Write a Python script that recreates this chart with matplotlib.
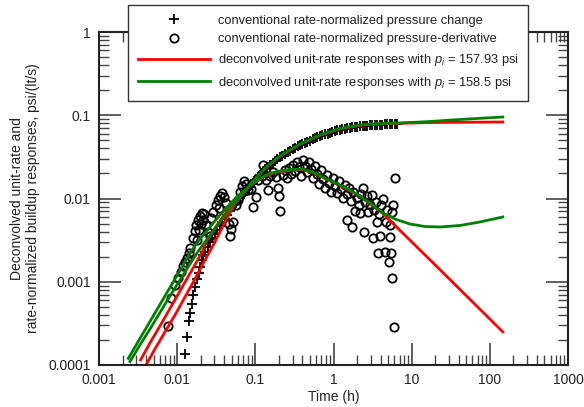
#! /usr/bin/env python3
""" Deconvolved unit-rate responses vs conventional rate-normalized buildup data. """

import matplotlib
matplotlib.use('Agg')
import matplotlib.pyplot as plt

plt.rcParams['font.family'] = ['Liberation Sans', 'DejaVu Sans']
plt.rcParams['mathtext.fontset'] = 'custom'
plt.rcParams['mathtext.rm'] = 'Liberation Sans'
plt.rcParams['mathtext.it'] = 'Liberation Sans:italic'

# conventional rate-normalized pressure change (+)
dp_t = [0.0126, 0.0135, 0.0143, 0.0146, 0.0153, 0.0161, 0.0170, 0.0181, 0.0188, 0.0196, 0.0206, 0.0216,
        0.0227, 0.0245, 0.0263, 0.0283, 0.0304, 0.0327, 0.0352, 0.038, 0.041, 0.044, 0.047, 0.051,
        0.055, 0.059, 0.064, 0.069, 0.074, 0.080, 0.086, 0.092, 0.099, 0.107, 0.115, 0.124,
        0.133, 0.143, 0.154, 0.166, 0.178, 0.192, 0.206, 0.222, 0.24, 0.26, 0.28, 0.30,
        0.32, 0.35, 0.37, 0.40, 0.43, 0.46, 0.50, 0.54, 0.58, 0.62, 0.67, 0.72,
        0.78, 0.84, 0.90, 0.97, 1.04, 1.12, 1.21, 1.30, 1.40, 1.51, 1.62, 1.75,
        1.88, 2.02, 2.18, 2.35, 2.52, 2.72, 2.92, 3.15, 3.38, 3.64, 3.92, 4.22,
        4.54, 4.89, 5.26, 5.66, 6.10, 6.5]
dp_v = [0.000136, 0.000215, 0.000335, 0.000425, 0.000536, 0.000693, 0.000872, 0.00107, 0.00128, 0.00152, 0.00183, 0.0021,
        0.0023, 0.0026, 0.0030, 0.0034, 0.0037, 0.0042, 0.0047, 0.0052, 0.0057, 0.0063, 0.0070, 0.0078,
        0.0085, 0.0093, 0.0102, 0.0111, 0.0120, 0.0131, 0.0142, 0.0153, 0.0167, 0.0180, 0.0194, 0.0210,
        0.0226, 0.0238, 0.0252, 0.0267, 0.0281, 0.0297, 0.0313, 0.0327, 0.0342, 0.0358, 0.0373, 0.0388,
        0.0403, 0.0423, 0.0437, 0.0453, 0.0466, 0.0479, 0.0497, 0.0513, 0.0528, 0.0544, 0.0562, 0.0574,
        0.0588, 0.0602, 0.0615, 0.0629, 0.0642, 0.0657, 0.0673, 0.0680, 0.0688, 0.0698, 0.0706, 0.0714,
        0.0722, 0.0732, 0.0741, 0.0744, 0.0748, 0.0753, 0.0756, 0.0760, 0.0763, 0.0769, 0.0772, 0.0774,
        0.0776, 0.0778, 0.0780, 0.0782, 0.0784, 0.0785]

# conventional rate-normalized pressure-derivative (o)
der_t = [0.00757, 0.00834, 0.00938, 0.01024, 0.0112, 0.01187, 0.0126, 0.01334, 0.01416, 0.0148,
         0.0159, 0.0169, 0.01767, 0.01846, 0.0196, 0.02077, 0.02203, 0.0214, 0.02016, 0.019,
         0.0179, 0.02336, 0.02477, 0.0263, 0.0459, 0.0488, 0.0473, 0.0518, 0.0313, 0.0332,
         0.0352, 0.0374, 0.0397, 0.0421, 0.0343, 0.0287, 0.027, 0.0565, 0.060, 0.0635,
         0.0674, 0.0715, 0.0759, 0.0804, 0.0879, 0.0931, 0.102, 0.108, 0.121, 0.125,
         0.137, 0.145, 0.154, 0.168, 0.183, 0.195, 0.200, 0.206, 0.226, 0.239,
         0.254, 0.269, 0.285, 0.303, 0.321, 0.340, 0.361, 0.383, 0.406, 0.431,
         0.457, 0.485, 0.514, 0.545, 0.578, 0.614, 0.650, 0.690, 0.732, 0.776,
         0.824, 0.873, 0.927, 0.982, 1.04, 1.105, 1.17, 1.24, 1.32, 1.40,
         1.47, 1.48, 1.57, 1.67, 1.75, 1.77, 1.88, 1.99, 2.11, 2.18,
         2.24, 2.38, 2.45, 2.52, 2.67, 2.75, 2.92, 3.10, 3.19, 3.29,
         3.48, 3.59, 3.70, 3.81, 3.92, 4.04, 4.28, 4.54, 4.68, 4.82,
         5.11, 5.26, 5.26, 5.50, 5.58, 5.75, 5.58, 5.92, 6.10]
der_v = [0.000294, 0.00063, 0.000914, 0.00111, 0.00131, 0.00155, 0.00173, 0.00193, 0.00221, 0.00254,
         0.00336, 0.00407, 0.00481, 0.00552, 0.00616, 0.0067, 0.00651, 0.00552, 0.00494, 0.00418,
         0.00317, 0.00481, 0.00396, 0.00355, 0.00494, 0.0043, 0.00355, 0.00522, 0.00835, 0.00959,
         0.0107, 0.0116, 0.0104, 0.00883, 0.00769, 0.00689, 0.00583, 0.00835, 0.00959, 0.0120,
         0.0141, 0.0162, 0.0149, 0.0126, 0.0130, 0.0079, 0.0104, 0.0167, 0.0186, 0.0253,
         0.0167, 0.0126, 0.0186, 0.0208, 0.0181, 0.0134, 0.0107, 0.00708, 0.0191, 0.0220,
         0.0176, 0.0232, 0.0197, 0.0253, 0.0214, 0.0274, 0.0239, 0.0186, 0.0290, 0.0245,
         0.0208, 0.0274, 0.0226, 0.0176, 0.0245, 0.0197, 0.0149, 0.0220, 0.0172, 0.0134,
         0.0191, 0.0153, 0.0120, 0.0176, 0.0141, 0.0116, 0.0162, 0.0130, 0.0101, 0.0145,
         0.0055, 0.0113, 0.0134, 0.00933, 0.00458, 0.0120, 0.00708, 0.0101, 0.00835, 0.0067,
         0.0113, 0.0134, 0.00396, 0.00908, 0.0107, 0.00689, 0.00835, 0.0110, 0.00336, 0.00727,
         0.00908, 0.00522, 0.00221, 0.00651, 0.00355, 0.00835, 0.00986, 0.00228, 0.00522, 0.00727,
         0.00173, 0.00345, 0.0048, 0.00221, 0.00111, 0.00835, 0.00689, 0.000286, 0.0176]

# deconvolved responses, pi = 157.93 psi (red)
red_p_t = [0.00399, 0.0052, 0.00698, 0.00938, 0.0126, 0.0169, 0.0227, 0.0304, 0.0408, 0.0548,
           0.0736, 0.0988, 0.133, 0.206, 0.372, 0.670, 1.21, 2.18, 3.92, 7.06, 17.1, 41.3, 146.6]
red_p_v = [0.0001, 0.000156, 0.000249, 0.000398, 0.000656, 0.00108, 0.00182, 0.0030, 0.0052, 0.0086,
           0.0121, 0.0170, 0.0229, 0.0320, 0.0446, 0.0572, 0.0686, 0.0755, 0.0787, 0.0800, 0.0818, 0.0823, 0.083]
red_d_t = [0.00341, 0.00449, 0.00603, 0.00809, 0.01087, 0.0146, 0.0206, 0.0240, 0.0304, 0.0408,
           0.0548, 0.0736, 0.0988, 0.133, 0.178, 0.277, 0.406, 0.578, 0.776, 1.105,
           1.62, 2.18, 2.92, 4.28, 23.0, 146.6]
red_d_v = [0.000115, 0.000184, 0.000294, 0.000477, 0.000775, 0.00126, 0.00221, 0.00309, 0.00442, 0.00651,
           0.00933, 0.0123, 0.0158, 0.0186, 0.0205, 0.0218, 0.0223, 0.0200, 0.0174, 0.0149,
           0.0124, 0.0106, 0.0087, 0.0066, 0.0014, 0.00025]

# deconvolved responses, pi = 158.5 psi (green)
grn_p_t = [0.00249, 0.00334, 0.00449, 0.00603, 0.00809, 0.01087, 0.0146, 0.0179, 0.0227, 0.0304,
           0.0408, 0.0548, 0.0736, 0.0988, 0.133, 0.206, 0.372, 0.670, 1.21, 2.18,
           3.92, 7.06, 17.1, 41.3, 146.6]
grn_p_v = [0.00011, 0.000174, 0.00027, 0.000427, 0.000674, 0.00105, 0.00163, 0.00221, 0.0030, 0.0043,
           0.00616, 0.00883, 0.0123, 0.0172, 0.0232, 0.0324, 0.0451, 0.0579, 0.0694, 0.0764,
           0.0796, 0.0807, 0.0841, 0.0889, 0.0953]
grn_d_t = [0.00237, 0.00334, 0.00449, 0.00603, 0.00809, 0.01087, 0.0153, 0.0196, 0.0263, 0.0352,
           0.0473, 0.0635, 0.0853, 0.1145, 0.154, 0.206, 0.277, 0.406, 0.578, 0.776,
           1.105, 1.62, 2.18, 2.92, 4.28, 6.10, 9.49, 14.8, 23.0, 41.3, 74.5, 146.6]
grn_d_v = [0.00012, 0.000208, 0.000333, 0.000533, 0.000853, 0.00136, 0.00237, 0.00326, 0.00455, 0.00633,
           0.00859, 0.0113, 0.0141, 0.0174, 0.0200, 0.0214, 0.0223, 0.0226, 0.0202, 0.0176,
           0.0151, 0.0126, 0.0107, 0.00883, 0.0067, 0.00567, 0.00494, 0.00461, 0.00455, 0.00474, 0.00522, 0.0060]

x_ticks = [0.001, 0.01, 0.1, 1, 10, 100, 1000]
x_labels = ['0.001', '0.01', '0.1', '1', '10', '100', '1000']
y_ticks = [0.0001, 0.001, 0.01, 0.1, 1]
y_labels = ['0.0001', '0.001', '0.01', '0.1', '1']

if __name__ == "__main__":
    fig = plt.figure(figsize=(5.84, 4.07), dpi=100)
    ax = fig.add_axes([99 / 584, 1 - 365 / 407, 469 / 584, 333 / 407])

    ax.plot(dp_t, dp_v, '+', color='black', ms=7, mew=1.3, ls='none',
            label='conventional rate-normalized pressure change')
    ax.plot(der_t, der_v, 'o', mfc='none', mec='black', ms=6, mew=1.3, ls='none',
            label='conventional rate-normalized pressure-derivative')
    red = '#ff0000'
    grn = '#008000'
    ax.plot(red_p_t, red_p_v, color=red, lw=2,
            label='deconvolved unit-rate responses with $p_i$ = 157.93 psi')
    ax.plot(red_d_t, red_d_v, color=red, lw=2)
    ax.plot(grn_p_t, grn_p_v, color=grn, lw=2,
            label='deconvolved unit-rate responses with $p_i$ = 158.5 psi')
    ax.plot(grn_d_t, grn_d_v, color=grn, lw=2)

    ax.set_xscale('log')
    ax.set_yscale('log')
    ax.set_xlim(1e-3, 1e3)
    ax.set_ylim(1e-4, 1)
    ax.set_xticks(x_ticks)
    ax.set_xticklabels(x_labels)
    ax.set_yticks(y_ticks)
    ax.set_yticklabels(y_labels)
    ax.tick_params(which='both', direction='in', top=True, right=True,
                   labelsize=10, labelcolor='#222222', color='#444444')
    ax.tick_params(which='major', length=16, width=1.2, pad=6)
    ax.tick_params(which='minor', length=7, width=1.0)
    for sp in ax.spines.values():
        sp.set_linewidth(1.5)
        sp.set_color('#222222')

    ax.set_xlabel('Time (h)', fontsize=10, color='#222222', labelpad=2)
    ax.set_ylabel('Deconvolved unit-rate and\nrate-normalized buildup responses, psi/(lt/s)',
                  fontsize=10, color='#222222', labelpad=6, linespacing=1.15)

    leg = ax.legend(loc='upper left', bbox_to_anchor=(128 / 584, 1 - 5 / 407),
                    bbox_transform=fig.transFigure, fontsize=9.3, frameon=True,
                    fancybox=False, edgecolor='#333333', framealpha=1,
                    handlelength=5.6, handletextpad=0.6, borderpad=0.75,
                    labelspacing=0.52, borderaxespad=0)
    leg.get_frame().set_linewidth(1.0)
    for txt in leg.get_texts():
        txt.set_color('#222222')

    fig.savefig('out.png', dpi=100)
